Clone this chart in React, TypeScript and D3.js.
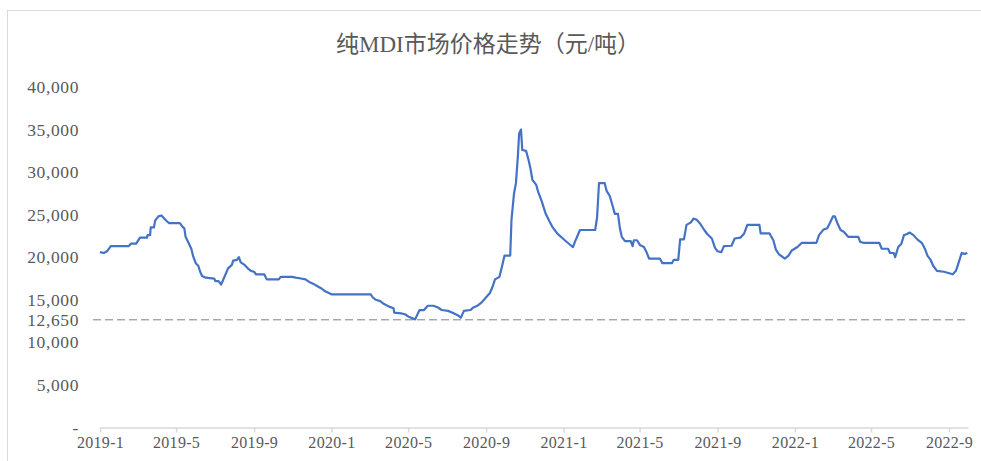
import { useEffect, useRef } from "react";
import * as d3 from "d3";

const title = "纯MDI市场价格走势（元/吨）";

const dates = [
  "2019-01-01", "2019-01-07", "2019-01-12", "2019-01-18", "2019-02-15", "2019-02-19", "2019-02-27",
  "2019-03-05", "2019-03-16", "2019-03-17", "2019-03-21", "2019-03-22", "2019-03-27", "2019-03-29",
  "2019-04-03", "2019-04-08", "2019-04-14", "2019-04-20", "2019-05-07", "2019-05-11", "2019-05-14",
  "2019-05-16", "2019-05-20", "2019-05-25", "2019-05-28", "2019-06-01", "2019-06-05", "2019-06-08",
  "2019-06-11", "2019-06-17", "2019-06-30", "2019-07-02", "2019-07-07", "2019-07-11", "2019-07-14",
  "2019-07-22", "2019-07-28", "2019-07-30", "2019-08-05", "2019-08-08", "2019-08-11", "2019-08-17",
  "2019-08-22", "2019-08-27", "2019-09-01", "2019-09-04", "2019-09-17", "2019-09-21", "2019-10-10",
  "2019-10-13", "2019-10-31", "2019-11-06", "2019-11-14", "2019-11-21", "2019-11-27", "2019-12-03",
  "2019-12-10", "2019-12-17", "2019-12-22", "2019-12-28", "2020-01-01", "2020-03-03", "2020-03-06",
  "2020-03-11", "2020-03-18", "2020-03-24", "2020-04-01", "2020-04-08", "2020-04-09", "2020-04-20",
  "2020-04-26", "2020-05-02", "2020-05-12", "2020-05-19", "2020-05-26", "2020-06-01", "2020-06-10",
  "2020-06-17", "2020-06-23", "2020-07-03", "2020-07-11", "2020-07-18", "2020-07-23", "2020-07-28",
  "2020-08-07", "2020-08-12", "2020-08-18", "2020-08-25", "2020-09-01", "2020-09-07", "2020-09-11",
  "2020-09-15", "2020-09-22", "2020-09-26", "2020-09-30", "2020-10-09", "2020-10-11", "2020-10-15",
  "2020-10-18", "2020-10-21", "2020-10-23", "2020-10-26", "2020-10-28", "2020-11-03", "2020-11-07",
  "2020-11-10", "2020-11-13", "2020-11-19", "2020-11-22", "2020-11-28", "2020-12-04", "2020-12-10",
  "2020-12-15", "2020-12-22", "2020-12-31", "2021-01-03", "2021-01-11", "2021-01-16", "2021-01-19",
  "2021-01-27", "2021-02-20", "2021-02-23", "2021-02-26", "2021-03-07", "2021-03-10", "2021-03-15",
  "2021-03-20", "2021-03-23", "2021-03-28", "2021-03-31", "2021-04-03", "2021-04-08", "2021-04-17",
  "2021-04-20", "2021-04-22", "2021-04-27", "2021-05-02", "2021-05-08", "2021-05-12", "2021-05-16",
  "2021-06-02", "2021-06-06", "2021-06-21", "2021-06-24", "2021-07-01", "2021-07-04", "2021-07-10",
  "2021-07-14", "2021-07-21", "2021-07-25", "2021-07-30", "2021-08-04", "2021-08-11", "2021-08-16",
  "2021-08-23", "2021-08-28", "2021-09-01", "2021-09-07", "2021-09-11", "2021-09-23", "2021-09-28",
  "2021-10-07", "2021-10-13", "2021-10-18", "2021-11-06", "2021-11-08", "2021-11-22", "2021-11-28",
  "2021-12-02", "2021-12-07", "2021-12-16", "2021-12-22", "2021-12-27", "2022-01-05", "2022-01-12",
  "2022-02-04", "2022-02-08", "2022-02-15", "2022-02-21", "2022-02-25", "2022-03-02", "2022-03-05",
  "2022-03-09", "2022-03-14", "2022-03-19", "2022-03-26", "2022-04-11", "2022-04-14", "2022-04-19",
  "2022-05-14", "2022-05-18", "2022-05-28", "2022-05-31", "2022-06-06", "2022-06-08", "2022-06-13",
  "2022-06-18", "2022-06-22", "2022-06-26", "2022-07-01", "2022-07-07", "2022-07-13", "2022-07-20",
  "2022-07-25", "2022-07-29", "2022-08-03", "2022-08-07", "2022-08-13", "2022-08-24", "2022-09-07",
  "2022-09-12", "2022-09-16", "2022-09-21", "2022-09-26", "2022-09-30",
];

const prices = [
  20600, 20500, 20700, 21300, 21300, 21600, 21600,
  22300, 22300, 22600, 22600, 23500, 23500, 24300,
  24800, 24900, 24400, 24000, 24000, 23600, 23400,
  22400, 21800, 21000, 20100, 19300, 19000, 18300,
  17800, 17600, 17500, 17200, 17200, 16800, 17300,
  18700, 19100, 19600, 19700, 20000, 19400, 19100,
  18700, 18400, 18300, 18000, 18000, 17400, 17400,
  17700, 17700, 17600, 17500, 17400, 17100, 16900,
  16600, 16300, 16000, 15800, 15650, 15650, 15300,
  15000, 14850, 14500, 14200, 14000, 13500, 13400,
  13300, 13000, 12700, 13800, 13800, 14300, 14300,
  14100, 13800, 13700, 13450, 13200, 12900, 13700,
  13800, 14100, 14300, 14700, 15300, 15800, 16500,
  17400, 17700, 18900, 20200, 20200, 24400, 27500,
  28700, 31800, 34500, 35000, 32600, 32500, 31400,
  30400, 29100, 28500, 27700, 26500, 25100, 24200,
  23500, 22800, 22200, 22000, 21500, 21200, 21800,
  23200, 23200, 24700, 28700, 28700, 27800, 27200,
  25900, 25100, 25100, 23400, 22400, 21900, 21900,
  21300, 22000, 22000, 21400, 21200, 20600, 19850,
  19850, 19300, 19300, 19700, 19700, 22100, 22100,
  23800, 24100, 24550, 24400, 24000, 23200, 22700,
  22200, 21100, 20700, 20600, 21300, 21350, 22200,
  22300, 22800, 23800, 23800, 22800, 22800, 22000,
  20900, 20350, 19850, 20200, 20800, 21200, 21700,
  21700, 22600, 23250, 23400, 24000, 24800, 24800,
  24000, 23200, 23000, 22400, 22400, 21800, 21700,
  21700, 21000, 21000, 20500, 20500, 20000, 21200,
  21600, 22600, 22700, 22900, 22600, 22100, 21700,
  21000, 20200, 19700, 19000, 18400, 18300, 18000,
  18400, 19300, 20500, 20400, 20500,
];

const xTickLabels = [
  "2019-1", "2019-5", "2019-9", "2020-1", "2020-5", "2020-9",
  "2021-1", "2021-5", "2021-9", "2022-1", "2022-5", "2022-9",
];
const yTicks = [0, 5000, 10000, 15000, 20000, 25000, 30000, 35000, 40000];
const refValue = 12650;

const W = 981;
const H = 461;
const textColor = "#595959";
const fontFamily = "'Liberation Serif', 'Noto Sans CJK SC', serif";

export default function App() {
  const svgRef = useRef<SVGSVGElement | null>(null);

  useEffect(() => {
    if (!svgRef.current) return;
    const svg = d3.select(svgRef.current);
    svg.selectAll("*").remove();

    const parseDay = d3.timeParse("%Y-%m-%d");
    const parseMonth = d3.timeParse("%Y-%m");
    const series = dates.map((d, i) => ({ date: parseDay(d)!, value: prices[i] }));

    const x = d3
      .scaleTime()
      .domain([new Date(2019, 0, 1), new Date(2022, 9, 1)])
      .range([100, 968]);

    const y = d3.scaleLinear().domain([0, 40000]).range([427.5, 87]);

    // outer chart frame
    svg
      .append("rect")
      .attr("x", 7.5)
      .attr("y", 10.5)
      .attr("width", 1000)
      .attr("height", 600)
      .attr("fill", "#fff")
      .attr("stroke", "#d9d9d9");

    svg
      .append("text")
      .text(title)
      .attr("x", 488)
      .attr("y", 52)
      .attr("text-anchor", "middle")
      .attr("font-family", fontFamily)
      .attr("font-size", 23)
      .attr("fill", textColor);

    // x axis
    const tickDates = xTickLabels.map((s) => parseMonth(s)!);
    const xAxis = svg
      .append("g")
      .attr("transform", `translate(0,${y(0)})`)
      .call(
        d3
          .axisBottom(x)
          .tickValues(tickDates)
          .tickFormat((_, i) => xTickLabels[i])
          .tickSize(5)
          .tickSizeOuter(0)
          .tickPadding(4)
      );
    xAxis.select(".domain").attr("stroke", "#d9d9d9").attr("stroke-width", 1.5);
    xAxis.selectAll(".tick line").attr("stroke", "#d9d9d9").attr("stroke-width", 1.5);
    xAxis
      .selectAll(".tick text")
      .attr("fill", textColor)
      .attr("font-family", fontFamily)
      .attr("font-size", 16)
      .attr("letter-spacing", 0.3);

    // y axis labels (no line, no ticks)
    const yAxis = svg
      .append("g")
      .attr("transform", "translate(82,0)")
      .call(
        d3
          .axisLeft(y)
          .tickValues([...yTicks, refValue])
          .tickSize(0)
          .tickPadding(3)
          .tickFormat((d) => (+d === 0 ? "-" : d3.format(",")(+d)))
      );
    yAxis.select(".domain").remove();
    yAxis
      .selectAll(".tick text")
      .attr("fill", textColor)
      .attr("font-family", fontFamily)
      .attr("font-size", 17.5)
      .attr("letter-spacing", 0.6);

    // reference line
    svg
      .append("line")
      .attr("x1", x.range()[0] - 7)
      .attr("x2", x.range()[1] - 3)
      .attr("y1", y(refValue))
      .attr("y2", y(refValue))
      .attr("stroke", "#7f7f7f")
      .attr("stroke-width", 1)
      .attr("stroke-dasharray", "8,4");

    const line = d3
      .line<{ date: Date; value: number }>()
      .x((d) => x(d.date))
      .y((d) => y(d.value));

    svg
      .append("path")
      .datum(series)
      .attr("fill", "none")
      .attr("stroke", "#4472c4")
      .attr("stroke-width", 2.2)
      .attr("stroke-linejoin", "round")
      .attr("d", line);
  }, []);

  return (
    <svg
      ref={svgRef}
      width={W}
      height={H}
      style={{ position: "absolute", left: 0, top: 0, background: "#fff" }}
    />
  );
}
